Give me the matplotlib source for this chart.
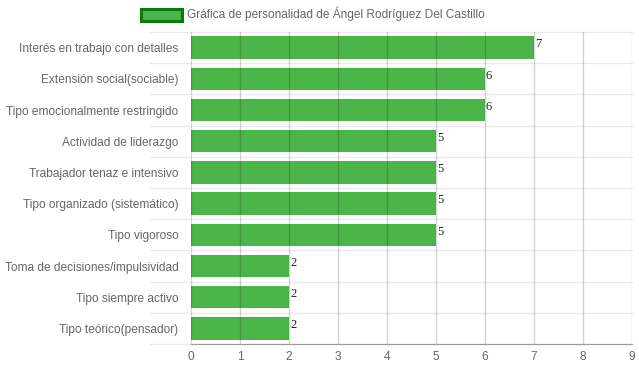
import matplotlib
matplotlib.use("Agg")
import matplotlib.pyplot as plt
from matplotlib.patches import Rectangle

# data
categories = [
    "Interés en trabajo con detalles",
    "Extensión social(sociable)",
    "Tipo emocionalmente restringido",
    "Actividad de liderazgo",
    "Trabajador tenaz e intensivo",
    "Tipo organizado (sistemático)",
    "Tipo vigoroso",
    "Toma de decisiones/impulsividad",
    "Tipo siempre activo",
    "Tipo teórico(pensador)",
]
values = [7, 6, 6, 5, 5, 5, 5, 2, 2, 2]
x_ticks = list(range(0, 10))
legend_label = "Gráfica de personalidad de Ángel Rodríguez Del Castillo"

BAR = "#4cb54a"
EDGE = "#0a7a0a"
TXT = "#666666"
FS = 8.6

plt.rcParams["font.family"] = ["Liberation Sans", "DejaVu Sans"]

fig = plt.figure(figsize=(6.39, 3.72), dpi=100)
ax = fig.add_axes([191 / 639, 1 - 344 / 372, 441 / 639, 312 / 372])

pos = list(range(len(categories)))
ax.barh(pos, values, height=0.72, color=BAR, zorder=2)

ax.set_xlim(0, 9)
ax.set_ylim(len(categories) - 0.5, -0.5)

# vertical grid over the bars
for t in x_ticks:
    ax.axvline(t, color=(0, 0, 0, 0.17), lw=1, zorder=3)

# light horizontal lines between categories, reaching into the label area
for k in range(len(categories) + 1):
    ax.axhline(k - 0.5, xmin=-41 / 441, xmax=1, color="#ebebeb", lw=1,
               zorder=1, clip_on=False)

for sp in ["top", "right", "left"]:
    ax.spines[sp].set_visible(False)
ax.spines["bottom"].set_color("#9a9a9a")
ax.spines["bottom"].set_zorder(4)

ax.set_xticks(x_ticks)
ax.set_yticks(pos)
ax.set_yticklabels(categories)
ax.tick_params(axis="both", length=0, labelcolor=TXT, labelsize=FS)
ax.tick_params(axis="y", pad=9)
ax.tick_params(axis="x", pad=5)

# value labels at the end of each bar
for i, v in enumerate(values):
    ax.text(v + 0.02, i - 0.1, str(v), ha="left", va="center",
            fontsize=9, color="#222222", family="Liberation Serif", zorder=5)

# legend box drawn by hand, centred above the plot
fig.patches.append(Rectangle((141 / 639, 1 - 21 / 372), 41 / 639, 12 / 372,
                             transform=fig.transFigure, facecolor=BAR,
                             edgecolor=EDGE, lw=2.2))
fig.text(187 / 639, 1 - 14 / 372, legend_label, ha="left", va="center",
         fontsize=FS, color=TXT)

fig.savefig("out.png", dpi=100, facecolor="white")
